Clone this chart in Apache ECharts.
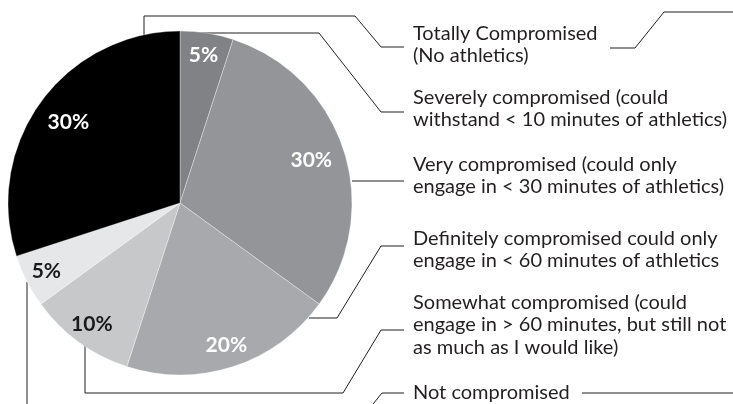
<!DOCTYPE html>
<html>
<head>
<meta charset="utf-8">
<script src="https://cdn.jsdelivr.net/npm/echarts@6/dist/echarts.min.js"></script>
<style>
  html, body { margin: 0; padding: 0; background: #fff; }
  #chart { width: 733px; height: 404px; }
</style>
</head>
<body>
<div id="chart"></div>
<script>
// Slices, clockwise from 12 o'clock
const categories = [
  'Severely compromised',
  'Very compromised',
  'Definitely compromised',
  'Somewhat compromised',
  'Not compromised',
  'Totally Compromised'
];
const values = [5, 30, 20, 10, 5, 30];
const sliceColors = ['#808285', '#939598', '#a7a9ac', '#c7c8ca', '#e6e7e8', '#000000'];
const labelColors = ['#ffffff', '#ffffff', '#ffffff', '#1a1a1a', '#1a1a1a', '#ffffff'];

// Descriptions listed down the right-hand side
const descriptions = [
  'Totally Compromised\n(No athletics)',
  'Severely compromised (could\nwithstand < 10 minutes of athletics)',
  'Very compromised (could only\nengage in < 30 minutes of athletics)',
  'Definitely compromised could only\nengage in < 60 minutes of athletics',
  'Somewhat compromised (could\nengage in > 60 minutes, but still not\nas much as I would like)',
  'Not compromised'
];
const descriptionTops = [22, 86, 153, 227, 291, 381];

const CX = 180, CY = 203, R = 172;
const FONT = 'Lato, "Noto Sans", sans-serif';

const sliceData = categories.map((name, i) => ({
  name, value: values[i], itemStyle: { color: sliceColors[i] }
}));

// Transparent rings over the pie that carry the percentage labels at two depths
function labelRing(inner, showIdx) {
  return {
    type: 'pie',
    silent: true,
    center: [CX, CY],
    radius: [inner, R],
    startAngle: 90,
    clockwise: true,
    animation: false,
    itemStyle: { color: 'rgba(0,0,0,0)', borderWidth: 0 },
    labelLine: { show: false },
    data: categories.map((name, i) => ({
      name, value: values[i],
      label: {
        show: showIdx.includes(i),
        position: 'inside',
        formatter: values[i] + '%',
        color: labelColors[i],
        fontFamily: FONT,
        fontWeight: 'bold',
        fontSize: 21
      }
    }))
  };
}

const line = (points, color) => ({
  type: 'polyline',
  silent: true,
  shape: { points },
  style: { stroke: color || '#231f20', lineWidth: 1, fill: null }
});

const leaderLines = [
  line([[144, 35], [144, 16], [355, 16], [381, 47], [404, 47]]),
  line([[180, 33], [319, 33], [381, 112], [404, 112]]),
  line([[352, 181], [404, 181]]),
  line([[309, 318], [337, 318], [381, 246], [404, 246]]),
  line([[85, 345], [85, 393], [343, 393], [381, 330], [404, 330]]),
  line([[27, 282], [27, 404]]),
  line([[373, 404], [382, 393], [404, 393]]),
  line([[582, 393], [733, 393]]),
  line([[610, 48], [635, 48], [664, 12], [733, 12]])
];

const descriptionTexts = descriptions.map((t, i) => ({
  type: 'text',
  silent: true,
  left: 413,
  top: descriptionTops[i],
  style: {
    text: t,
    font: '20px ' + FONT,
    fill: '#231f20',
    lineHeight: 22.5
  }
}));

const chart = echarts.init(document.getElementById('chart'), null, { renderer: 'canvas' });
chart.setOption({
  backgroundColor: '#ffffff',
  animation: false,
  series: [
    {
      type: 'pie',
      center: [CX, CY],
      radius: [0, R],
      startAngle: 90,
      clockwise: true,
      silent: true,
      label: { show: false },
      labelLine: { show: false },
      itemStyle: { borderColor: 'rgba(255,255,255,0.55)', borderWidth: 0.6 },
      data: sliceData
    },
    labelRing(122, [0, 2, 3, 4]),
    labelRing(98, [1, 5])
  ],
  graphic: leaderLines.concat(descriptionTexts)
});
</script>
</body>
</html>
